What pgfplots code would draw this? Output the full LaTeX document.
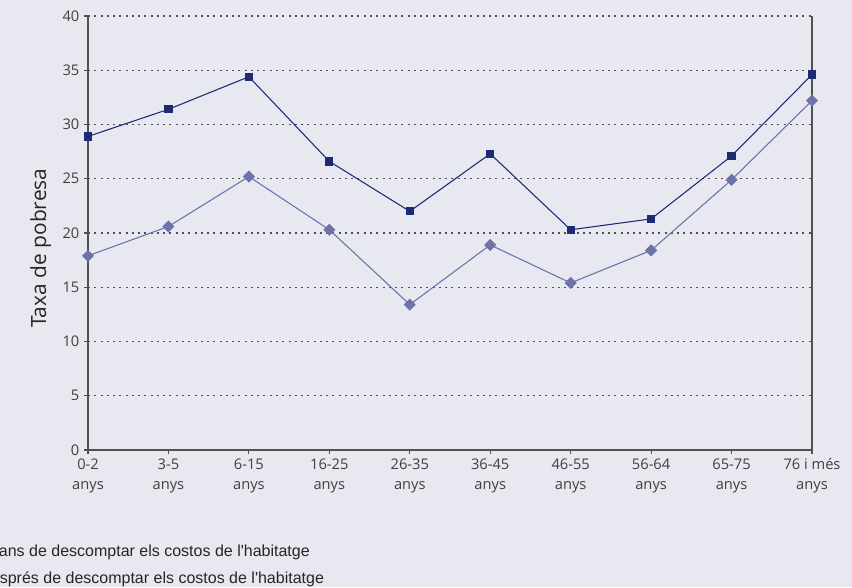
\documentclass[border=0pt]{standalone}
\usepackage{fontspec}
\setmainfont{Open Sans}
\newfontfamily\legfont{Liberation Sans}
\usepackage{pgfplots}
\pgfplotsset{compat=1.18}
\definecolor{bgc}{HTML}{E8E8F0}
\definecolor{abans}{HTML}{1F2A74}
\definecolor{despres}{HTML}{6C72AA}
\definecolor{axc}{HTML}{505050}

\begin{document}
\begin{tikzpicture}
\begin{scope}
\clip (-66pt,-102.75pt) rectangle (573pt,337.5pt);
\fill[bgc] (-66pt,-102.75pt) rectangle (573pt,337.5pt);
\begin{axis}[
  scale only axis,
  width=543pt, height=325.5pt,
  at={(0,0)}, anchor=south west,
  xmin=0, xmax=9, ymin=0, ymax=40,
  ytick={0,5,...,40},
  xtick=data,
  xticklabels={{0-2\\anys},{3-5\\anys},{6-15\\anys},{16-25\\anys},{26-35\\anys},{36-45\\anys},{46-55\\anys},{56-64\\anys},{65-75\\anys},{76 i més\\anys}},
  xticklabel style={align=center, font=\fontsize{11}{15}\selectfont, text=axc!80!black},
  yticklabel style={font=\fontsize{11}{12}\selectfont, text=axc!80!black},
  /pgf/number format/assume math mode=true,
  axis x line*=bottom,
  axis y line*=box,
  ytick pos=left,
  axis line style={axc, line width=1.1pt},
  tick style={axc, line width=0.8pt},
  tick align=outside,
  major tick length=3pt,
  ymajorgrids,
  major grid style={axc, line width=0.8pt, dash pattern=on 1.5pt off 3.2pt},
  ylabel={Taxa de pobresa},
  every axis y label/.style={at={(rel axis cs:-0.0654,0.465)}, rotate=90, anchor=center, font=\fontsize{15.7}{18}\selectfont, text=black!85},
  clip=false,
  legend style={at={(rel axis cs:-0.1925,-0.205)}, anchor=north west, draw=none, fill=none,
    font=\legfont\fontsize{12}{14}\selectfont, row sep=6pt, text=black!85},
  legend cell align=left,
]
\addplot[abans, line width=0.8pt, mark=square*, mark size=2.7pt] coordinates {
  (0,28.9) (1,31.4) (2,34.4) (3,26.6) (4,22.0) (5,27.3) (6,20.3) (7,21.3) (8,27.1) (9,34.6)
};
\addlegendentry{Abans de descomptar els costos de l'habitatge}
\addplot[despres, line width=0.8pt, mark=square*, mark options={rotate=45}, mark size=2.8pt] coordinates {
  (0,17.9) (1,20.6) (2,25.2) (3,20.3) (4,13.4) (5,18.9) (6,15.4) (7,18.4) (8,24.9) (9,32.2)
};
\addlegendentry{Després de descomptar els costos de l'habitatge}
\end{axis}
\end{scope}
\pgfresetboundingbox
\path (-66pt,-102.75pt) rectangle (573pt,337.5pt);
\end{tikzpicture}
\end{document}
